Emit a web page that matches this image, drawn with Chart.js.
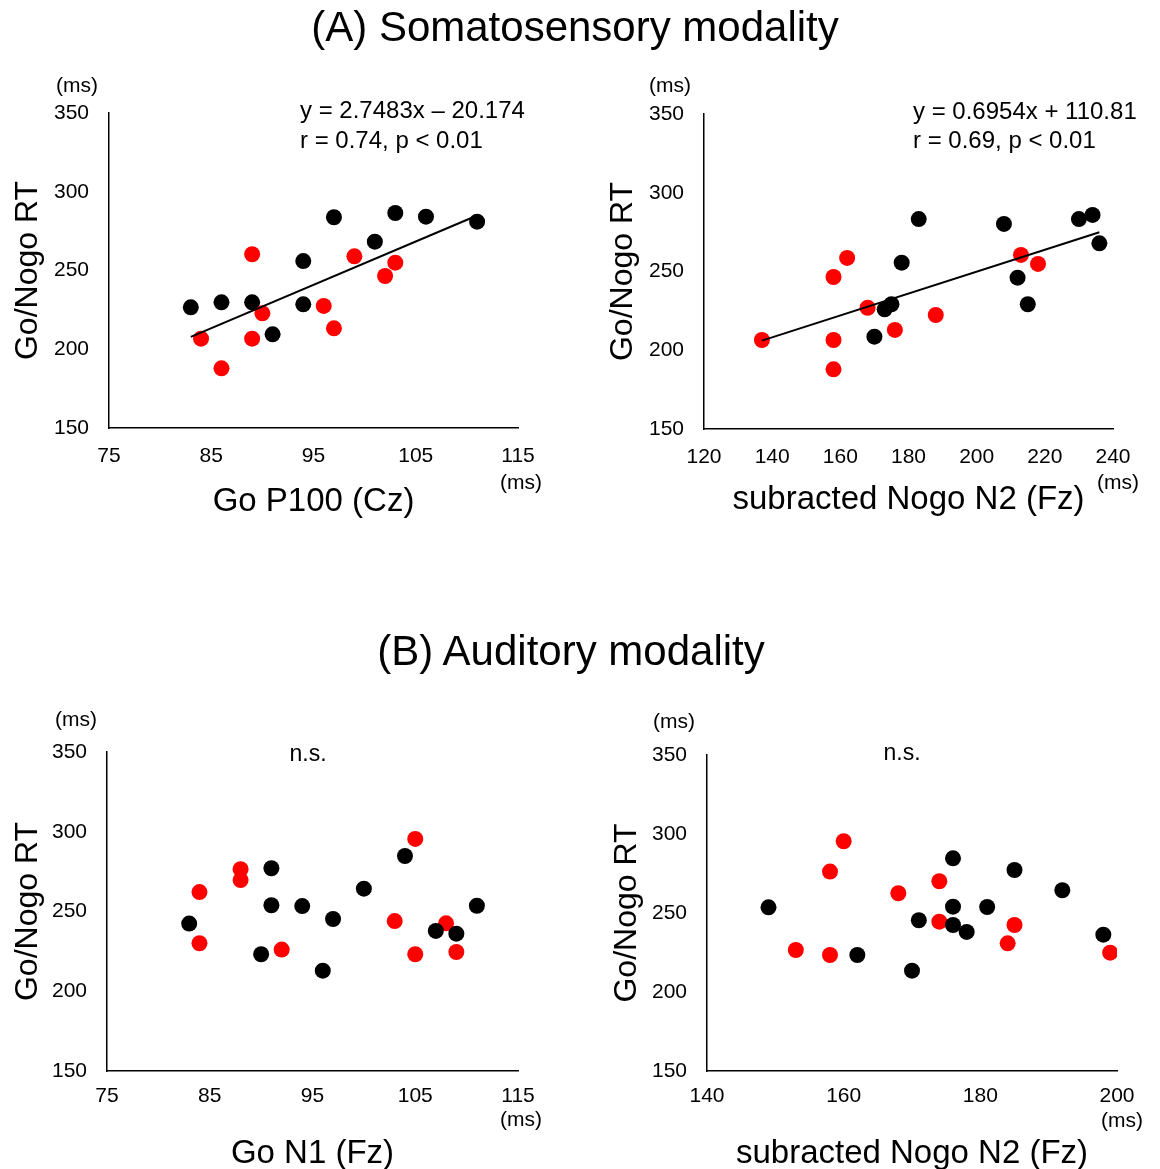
<!DOCTYPE html>
<html><head><meta charset="utf-8">
<script src="https://cdn.jsdelivr.net/npm/chart.js@4.4.1/dist/chart.umd.min.js"></script>
<style>
html,body{margin:0;padding:0;background:#fff;}
#page{position:relative;width:1160px;height:1169px;overflow:hidden;font-family:'Liberation Sans',Arial,sans-serif;}
.title{position:absolute;width:1160px;text-align:center;font-size:42px;line-height:42px;color:#000;white-space:nowrap;}
canvas{position:absolute;left:0;top:0;}
.wrap{position:absolute;width:580px;height:585px;}
</style></head><body>
<div id="page">
<div class="wrap" style="left:0;top:0"><canvas id="c1" width="580" height="585"></canvas></div>
<div class="wrap" style="left:580px;top:0"><canvas id="c2" width="580" height="585"></canvas></div>
<div class="wrap" style="left:0;top:585px"><canvas id="c3" width="580" height="585"></canvas></div>
<div class="wrap" style="left:580px;top:585px"><canvas id="c4" width="580" height="585"></canvas></div>
<div class="title" style="left:-5px;top:6px">(A) Somatosensory modality</div>
<div class="title" style="left:-9px;top:630px">(B) Auditory modality</div>
</div>
<script>
// ---------- DATA ----------
// (A) Somatosensory: Go P100 (Cz) vs Go/Nogo RT
const a1BlackX = [83, 86, 89, 91, 94, 94, 97, 101, 103, 106, 111];
const a1BlackY = [226.6, 229.8, 229.8, 209.5, 256, 228.5, 283.8, 268.3, 286.5, 284.2, 281];
const a1RedX = [89, 90, 84, 89, 86, 99, 96, 97, 103, 102];
const a1RedY = [260.3, 222.8, 206.7, 206.7, 187.9, 259, 227.5, 213.3, 255, 246.5];
const a1TrendX = [83, 111];
const a1TrendY = [207.9, 284.9];

// (A) Somatosensory: subtracted Nogo N2 (Fz) vs Go/Nogo RT
const a2BlackX = [183, 178, 173, 175, 170, 208, 212, 215, 230, 234, 236];
const a2BlackY = [283.3, 255.6, 226, 229.2, 208.6, 280.2, 246.1, 229.2, 283.3, 285.9, 267.9];
const a2RedX = [137, 158, 158, 158, 162, 168, 176, 188, 213, 218];
const a2RedY = [206.5, 206.5, 187.9, 246.5, 258.6, 227, 212.9, 222.4, 260.5, 254.8];
const a2TrendX = [137, 236];
const a2TrendY = [206.1, 274.9];

// (B) Auditory: Go N1 (Fz) vs Go/Nogo RT
const b1BlackX = [83, 91, 91, 90, 94, 97, 96, 100, 104, 107, 109, 111];
const b1BlackY = [242.4, 277.1, 253.9, 223.2, 253.4, 245.3, 212.9, 264.3, 284.8, 237.8, 236.1, 253.6];
const b1RedX = [84, 84, 88, 88, 92, 105, 103, 105, 108, 109];
const b1RedY = [262.2, 230.1, 276.5, 269.7, 226.1, 295.5, 244, 223.2, 242.6, 224.6];

// (B) Auditory: subtracted Nogo N2 (Fz) vs Go/Nogo RT
const b2BlackX = [149, 162, 170, 171, 176, 176, 176, 178, 181, 185, 192, 198];
const b2BlackY = [253.6, 223.4, 213.5, 245.4, 284.6, 254, 242.4, 238, 253.8, 277.2, 264.4, 236.3];
const b2RedX = [153, 158, 158, 160, 168, 174, 174, 185, 184, 199];
const b2RedY = [226.6, 223.4, 276.2, 295.4, 262.5, 270.1, 244.5, 242.4, 230.8, 224.9];

// axis ranges / ticks
const yRange = [150, 350, 50];
const xRangeA1 = [75, 115, 10];
const xRangeA2 = [120, 240, 20];
const xRangeB1 = [75, 115, 10];
const xRangeB2 = [140, 200, 20];

// labels
const yTitle = 'Go/Nogo RT';
const xTitles = ['Go P100 (Cz)', 'subracted Nogo N2 (Fz)', 'Go N1 (Fz)', 'subracted Nogo N2 (Fz)'];
const eqA1 = ['y = 2.7483x \u2013 20.174', 'r = 0.74, p < 0.01'];
const eqA2 = ['y = 0.6954x + 110.81', 'r = 0.69, p < 0.01'];
const nsText = 'n.s.';
const unitText = '(ms)';

// ---------- RENDER ----------
const FONT = "'Liberation Sans', Arial, sans-serif";
const zip = (xs, ys) => xs.map((x, i) => ({x: x, y: ys[i]}));

const annotPlugin = {
  id: 'annot',
  afterDraw(chart, args, opts) {
    const ctx = chart.ctx, a = chart.chartArea;
    ctx.save();
    ctx.fillStyle = '#000';
    ctx.textBaseline = 'middle';
    (opts.items || []).forEach(t => {
      ctx.font = t.size + 'px ' + FONT;
      ctx.textAlign = t.align || 'left';
      const x = (t.ax === 'right' ? a.right : a.left) + t.dx;
      const y = (t.ay === 'bottom' ? a.bottom : a.top) + t.dy;
      ctx.fillText(t.text, x, y);
    });
    ctx.restore();
  }
};

function build(id, p) {
  const W = 580, H = 585;
  const ds = [];
  if (p.trend) {
    ds.push({data: p.trend, showLine: true, borderColor: '#000', borderWidth: 2,
      pointRadius: 0, fill: false, order: 0});
  }
  ds.push({data: p.black, backgroundColor: '#000000', borderWidth: 0, pointRadius: 8,
    pointHoverRadius: 8, order: p.redOnTop ? 2 : 1});
  ds.push({data: p.red, backgroundColor: '#ff0000', borderWidth: 0, pointRadius: 8,
    pointHoverRadius: 8, order: p.redOnTop ? 1 : 2});
  new Chart(document.getElementById(id), {
    type: 'scatter',
    data: {datasets: ds},
    plugins: [annotPlugin],
    options: {
      responsive: false, animation: false, devicePixelRatio: 1,
      layout: {padding: {left: 0, top: p.T, right: W - p.R, bottom: H - p.B - p.xh}},
      plugins: {legend: {display: false}, tooltip: {enabled: false}, annot: {items: p.items}},
      scales: {
        x: {type: 'linear', position: 'bottom', min: p.xr[0], max: p.xr[1],
          ticks: {stepSize: p.xr[2], padding: p.xtp, color: '#000', font: {family: FONT, size: 21},
            maxRotation: 0, autoSkip: false},
          grid: {display: false, drawTicks: false},
          border: {display: true, color: '#000', width: 1.5},
          title: {display: true, text: p.xTitle, color: '#000', font: {family: FONT, size: 33},
            padding: {top: 0, bottom: -4}},
          afterFit(s) { s.height = p.xh; }
        },
        y: {type: 'linear', position: 'left', min: yRange[0], max: yRange[1],
          ticks: {stepSize: yRange[2], padding: 20, color: '#000', font: {family: FONT, size: 21}},
          grid: {display: false, drawTicks: false},
          border: {display: true, color: '#000', width: 1.5},
          title: {display: true, text: yTitle, color: '#000', font: {family: FONT, size: 32},
            padding: {top: p.ytp, bottom: 0}},
          afterFit(s) { s.width = p.L; }
        }
      }
    }
  });
}

build('c1', {L: 109, R: 518, T: 113, B: 428, xh: 90, ytp: 9, xtp: 16, xr: xRangeA1,
  xTitle: xTitles[0], black: zip(a1BlackX, a1BlackY), red: zip(a1RedX, a1RedY),
  trend: zip(a1TrendX, a1TrendY), redOnTop: true,
  items: [
    {text: unitText, size: 21, align: 'center', ax: 'left', ay: 'top', dx: -32, dy: -27},
    {text: unitText, size: 21, align: 'center', ax: 'right', ay: 'bottom', dx: 3, dy: 55},
    {text: eqA1[0], size: 24, ax: 'left', ay: 'top', dx: 191, dy: -2},
    {text: eqA1[1], size: 24, ax: 'left', ay: 'top', dx: 191, dy: 28}
  ]});

build('c2', {L: 124, R: 533, T: 114, B: 429, xh: 87, ytp: 24, xtp: 16, xr: xRangeA2,
  xTitle: xTitles[1], black: zip(a2BlackX, a2BlackY), red: zip(a2RedX, a2RedY),
  trend: zip(a2TrendX, a2TrendY), redOnTop: false,
  items: [
    {text: unitText, size: 21, align: 'center', ax: 'left', ay: 'top', dx: -34, dy: -28},
    {text: unitText, size: 21, align: 'center', ax: 'right', ay: 'bottom', dx: 5, dy: 54},
    {text: eqA2[0], size: 24, ax: 'left', ay: 'top', dx: 209, dy: -2},
    {text: eqA2[1], size: 24, ax: 'left', ay: 'top', dx: 209, dy: 27}
  ]});

build('c3', {L: 107, R: 518, T: 167, B: 486, xh: 99, ytp: 9, xtp: 13, xr: xRangeB1,
  xTitle: xTitles[2], black: zip(b1BlackX, b1BlackY), red: zip(b1RedX, b1RedY),
  trend: null, redOnTop: false,
  items: [
    {text: unitText, size: 21, align: 'center', ax: 'left', ay: 'top', dx: -31, dy: -32},
    {text: unitText, size: 21, align: 'center', ax: 'right', ay: 'bottom', dx: 3, dy: 49},
    {text: nsText, size: 23, align: 'center', ax: 'left', ay: 'top', dx: 201, dy: 3}
  ]});

build('c4', {L: 127, R: 537, T: 170, B: 486, xh: 99, ytp: 28, xtp: 13, xr: xRangeB2,
  xTitle: xTitles[3], black: zip(b2BlackX, b2BlackY), red: zip(b2RedX, b2RedY),
  trend: null, redOnTop: false,
  items: [
    {text: unitText, size: 21, align: 'center', ax: 'left', ay: 'top', dx: -33, dy: -33},
    {text: unitText, size: 21, align: 'center', ax: 'right', ay: 'bottom', dx: 5, dy: 50},
    {text: nsText, size: 23, align: 'center', ax: 'left', ay: 'top', dx: 195, dy: -1}
  ]});
</script>
</body></html>
